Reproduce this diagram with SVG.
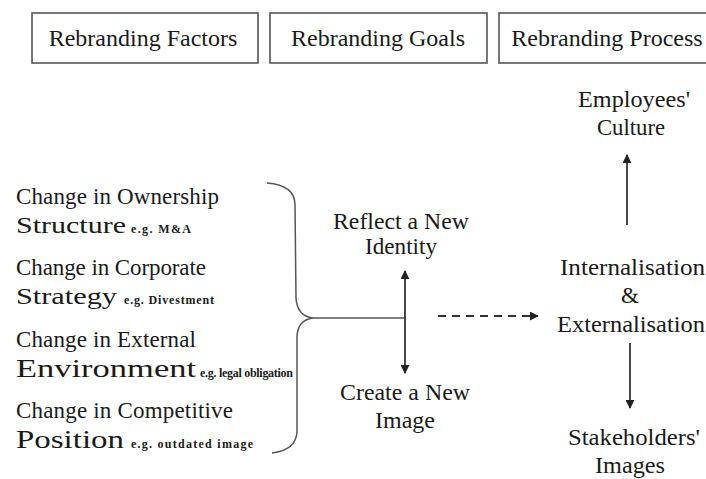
<svg xmlns="http://www.w3.org/2000/svg" width="706" height="479" viewBox="0 0 706 479" font-family="Liberation Serif, Times New Roman, serif">
<defs>
<style>
text{font-family:"Liberation Serif","Times New Roman",serif;fill:#1a1a1a;}
.hd{font-size:24px;text-anchor:middle;}
.lt{font-size:23px;}
.big{font-size:24px;}
.big2{font-size:25px;}
.eg{font-size:12px;font-weight:bold;}
.ct{font-size:23px;}
.box{fill:#fff;stroke:#555;stroke-width:1.6;}
.ln{fill:none;stroke:#333;stroke-width:1.8;}
.br{fill:none;stroke:#555;stroke-width:1.5;}
</style>
<marker id="ah" viewBox="0 0 10 10" refX="9" refY="5" markerWidth="5" markerHeight="5" orient="auto-start-reverse">
<path d="M0,0 L10,5 L0,10 z" fill="#222"/>
</marker>
</defs>
<rect width="706" height="479" fill="#fff"/>
<g id="hdr-factors"><rect class="box" x="32" y="13" width="226" height="50"/><text class="hd" x="143" y="46">Rebranding Factors</text></g>
<g id="hdr-goals"><rect class="box" x="270" y="13" width="217" height="50"/><text class="hd" x="378" y="46">Rebranding Goals</text></g>
<g id="hdr-process"><rect class="box" x="499" y="13" width="220" height="50"/><text class="hd" x="607" y="46">Rebranding Process</text></g>
<g id="factors">
<text class="lt" x="16" y="204" textLength="203" lengthAdjust="spacing">Change in Ownership</text>
<text class="lt" x="16" y="233"><tspan class="big" textLength="110" lengthAdjust="spacingAndGlyphs">Structure</tspan><tspan class="eg" x="131" textLength="60" lengthAdjust="spacing">e.g. M&amp;A</tspan></text>
<text class="lt" x="16" y="275" textLength="190" lengthAdjust="spacing">Change in Corporate</text>
<text class="lt" x="16" y="304"><tspan class="big" textLength="101" lengthAdjust="spacingAndGlyphs">Strategy</tspan><tspan class="eg" x="124" textLength="90" lengthAdjust="spacing">e.g. Divestment</tspan></text>
<text class="lt" x="16" y="347" textLength="180" lengthAdjust="spacing">Change in External</text>
<text class="lt" x="16" y="377"><tspan class="big2" textLength="180" lengthAdjust="spacingAndGlyphs">Environment</tspan><tspan class="eg" x="200" textLength="93" lengthAdjust="spacing">e.g. legal obligation</tspan></text>
<text class="lt" x="16" y="418" textLength="217" lengthAdjust="spacing">Change in Competitive</text>
<text class="lt" x="16" y="448"><tspan class="big2" textLength="108" lengthAdjust="spacingAndGlyphs">Position</tspan><tspan class="eg" x="131" textLength="122" lengthAdjust="spacing">e.g. outdated image</tspan></text>
</g>
<g id="goal-reflect"><text class="ct" x="333" y="229" textLength="136" lengthAdjust="spacingAndGlyphs">Reflect a New</text><text class="ct" x="365" y="254" textLength="72" lengthAdjust="spacingAndGlyphs">Identity</text></g>
<g id="goal-create"><text class="ct" x="340" y="400" textLength="130" lengthAdjust="spacingAndGlyphs">Create a New</text><text class="ct" x="375" y="428" textLength="60" lengthAdjust="spacingAndGlyphs">Image</text></g>
<g id="proc-employees"><text class="ct" x="578" y="107" textLength="112" lengthAdjust="spacingAndGlyphs">Employees'</text><text class="ct" x="597" y="135" textLength="68" lengthAdjust="spacingAndGlyphs">Culture</text></g>
<g id="proc-internal"><text class="ct" x="560" y="275" textLength="145" lengthAdjust="spacingAndGlyphs">Internalisation</text><text class="ct" x="621" y="303">&amp;</text><text class="ct" x="557" y="332" textLength="148" lengthAdjust="spacingAndGlyphs">Externalisation</text></g>
<g id="proc-stakeholders"><text class="ct" x="568" y="445" textLength="132" lengthAdjust="spacingAndGlyphs">Stakeholders'</text><text class="ct" x="595" y="473" textLength="70" lengthAdjust="spacingAndGlyphs">Images</text></g>
<g id="connectors">
<path class="br" d="M267,183 Q295,185 295,205 L296,298 Q297,316 313,318 Q297,320 297,338 L297,432 Q296,450 272,453"/>
<line class="br" x1="313" y1="318" x2="405" y2="318"/>
<line class="ln" x1="405" y1="271" x2="405" y2="373" marker-start="url(#ah)" marker-end="url(#ah)"/>
<line class="ln" x1="438" y1="316" x2="538" y2="316" stroke-dasharray="8,6" marker-end="url(#ah)"/>
<line class="ln" x1="627" y1="225" x2="627" y2="155" marker-end="url(#ah)"/>
<line class="ln" x1="630" y1="343" x2="630" y2="408" marker-end="url(#ah)"/>
</g>
</svg>
